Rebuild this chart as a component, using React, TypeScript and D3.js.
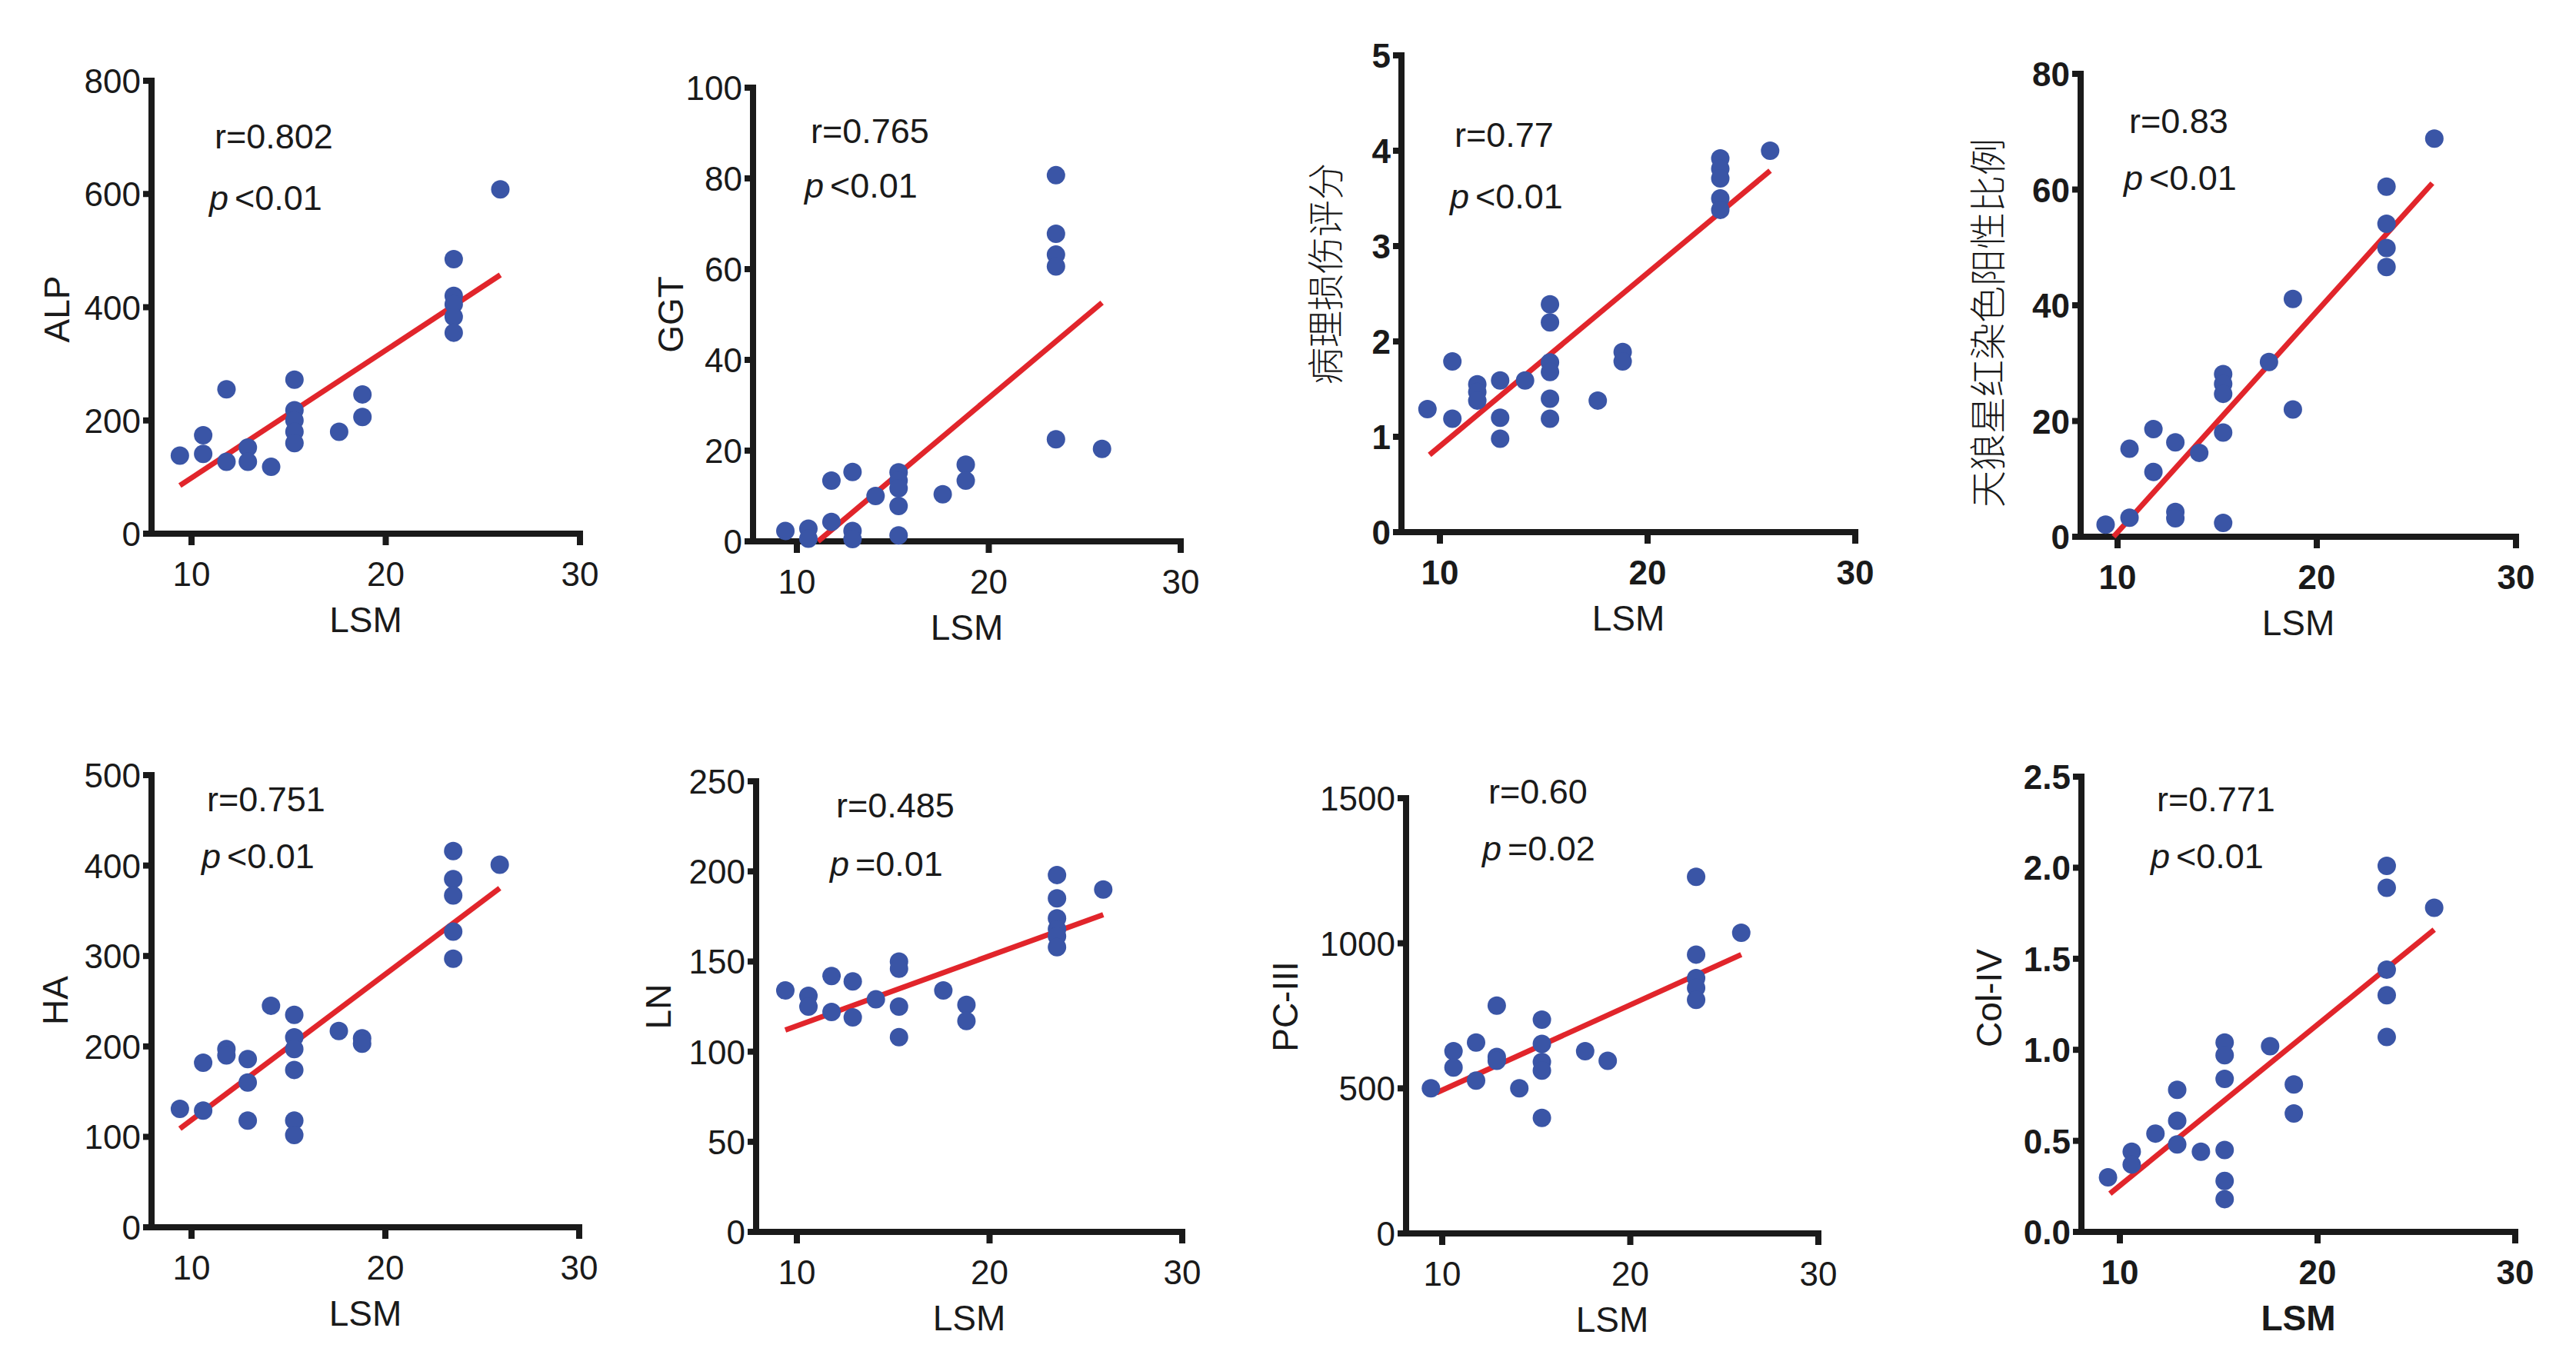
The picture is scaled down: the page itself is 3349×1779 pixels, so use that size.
import React from "react";
import * as d3 from "d3";

// ---------- DATA ----------
const alpLSM = [9.4, 10.6, 10.6, 11.8, 11.8, 12.9, 12.9, 14.1, 15.3, 15.3, 15.3, 15.3, 15.3, 17.6, 18.8, 18.8, 23.5, 23.5, 23.5, 23.5, 23.5, 25.9];
const alpVal = [138, 174, 141, 255, 127, 152, 127, 118, 272, 218, 200, 180, 160, 180, 246, 206, 485, 420, 405, 383, 355, 608];
const alpFitX = [9.4, 25.9];
const alpFitY = [85, 457];

const ggtLSM = [9.4, 10.6, 10.6, 11.8, 11.8, 12.9, 12.9, 12.9, 14.1, 15.3, 15.3, 15.3, 15.3, 15.3, 17.6, 18.8, 18.8, 23.5, 23.5, 23.5, 23.5, 23.5, 25.9];
const ggtVal = [2.3, 2.8, 0.6, 13.4, 4.3, 15.3, 2.3, 0.5, 10, 15.2, 13.4, 11.7, 7.8, 1.3, 10.4, 16.9, 13.4, 80.7, 67.8, 63.2, 60.6, 22.5, 20.4];
const ggtFitX = [11.1, 25.9];
const ggtFitY = [0, 52.6];

const scoreLSM = [9.4, 10.6, 10.6, 11.8, 11.8, 11.8, 12.9, 12.9, 12.9, 14.1, 15.3, 15.3, 15.3, 15.3, 15.3, 15.3, 17.6, 18.8, 18.8, 23.5, 23.5, 23.5, 23.5, 23.5, 25.9];
const scoreVal = [1.29, 1.79, 1.19, 1.55, 1.47, 1.38, 1.59, 1.2, 0.98, 1.59, 2.39, 2.2, 1.78, 1.68, 1.4, 1.19, 1.38, 1.89, 1.79, 3.92, 3.81, 3.71, 3.5, 3.38, 4.0];
const scoreFitX = [9.5, 25.9];
const scoreFitY = [0.81, 3.79];

const siriusLSM = [9.4, 10.6, 10.6, 11.8, 11.8, 12.9, 12.9, 12.9, 14.1, 15.3, 15.3, 15.3, 15.3, 15.3, 17.6, 18.8, 18.8, 23.5, 23.5, 23.5, 23.5, 25.9];
const siriusVal = [2.1, 15.2, 3.3, 18.6, 11.2, 16.3, 4.3, 3.2, 14.5, 28.1, 26.4, 24.7, 18.0, 2.4, 30.2, 41.1, 22.0, 60.5, 54.1, 49.9, 46.6, 68.8];
const siriusFitX = [9.8, 25.8];
const siriusFitY = [0, 61.1];

const haLSM = [9.4, 10.6, 10.6, 11.8, 11.8, 12.9, 12.9, 12.9, 14.1, 15.3, 15.3, 15.3, 15.3, 15.3, 15.3, 17.6, 18.8, 18.8, 23.5, 23.5, 23.5, 23.5, 23.5, 25.9];
const haVal = [131, 182, 129, 197, 190, 186, 160, 118, 245, 235, 210, 197, 174, 118, 102, 217, 209, 203, 416, 385, 367, 327, 297, 401];
const haFitX = [9.4, 25.9];
const haFitY = [109, 375];

const lnLSM = [9.4, 10.6, 10.6, 11.8, 11.8, 12.9, 12.9, 14.1, 15.3, 15.3, 15.3, 15.3, 17.6, 18.8, 18.8, 23.5, 23.5, 23.5, 23.5, 23.5, 23.5, 25.9];
const lnVal = [134, 131, 125, 142, 122, 139, 119, 129, 150, 146, 125, 108, 134, 126, 117, 198, 185, 174, 168, 164, 158, 190];
const lnFitX = [9.4, 25.9];
const lnFitY = [112, 176];

const pcLSM = [9.4, 10.6, 10.6, 11.8, 11.8, 12.9, 12.9, 12.9, 14.1, 15.3, 15.3, 15.3, 15.3, 15.3, 17.6, 18.8, 23.5, 23.5, 23.5, 23.5, 23.5, 25.9];
const pcVal = [500, 628, 572, 658, 527, 785, 608, 595, 500, 737, 653, 591, 561, 398, 628, 595, 1229, 961, 880, 846, 805, 1036];
const pcFitX = [9.7, 25.9];
const pcFitY = [485, 961];

const colLSM = [9.4, 10.6, 10.6, 11.8, 12.9, 12.9, 12.9, 14.1, 15.3, 15.3, 15.3, 15.3, 15.3, 15.3, 17.6, 18.8, 18.8, 23.5, 23.5, 23.5, 23.5, 23.5, 25.9];
const colVal = [0.30, 0.44, 0.37, 0.54, 0.78, 0.61, 0.48, 0.44, 1.04, 0.97, 0.84, 0.45, 0.28, 0.18, 1.02, 0.81, 0.65, 2.01, 1.89, 1.44, 1.30, 1.07, 1.78];
const colFitX = [9.5, 25.9];
const colFitY = [0.21, 1.66];

const xTicks = [10, 20, 30];
const xTitle = "LSM";

const yTitles = ["ALP", "GGT", "病理损伤评分", "天狼星红染色阳性比例", "HA", "LN", "PC-III", "Col-IV"];
const yMaxes = [800, 100, 5, 80, 500, 250, 1500, 2.5];
const yTickSets = [
  [0, 200, 400, 600, 800],
  [0, 20, 40, 60, 80, 100],
  [0, 1, 2, 3, 4, 5],
  [0, 20, 40, 60, 80],
  [0, 100, 200, 300, 400, 500],
  [0, 50, 100, 150, 200, 250],
  [0, 500, 1000, 1500],
  [0, 0.5, 1.0, 1.5, 2.0, 2.5],
];
const yTickFormats = ["d", "d", "d", "d", "d", "d", "d", ".1f"];
const rTexts = ["r=0.802", "r=0.765", "r=0.77", "r=0.83", "r=0.751", "r=0.485", "r=0.60", "r=0.771"];
const pTexts = ["<0.01", "<0.01", "<0.01", "<0.01", "<0.01", "=0.01", "=0.02", "<0.01"];

const seriesX = [alpLSM, ggtLSM, scoreLSM, siriusLSM, haLSM, lnLSM, pcLSM, colLSM];
const seriesY = [alpVal, ggtVal, scoreVal, siriusVal, haVal, lnVal, pcVal, colVal];
const fitXs = [alpFitX, ggtFitX, scoreFitX, siriusFitX, haFitX, lnFitX, pcFitX, colFitX];
const fitYs = [alpFitY, ggtFitY, scoreFitY, siriusFitY, haFitY, lnFitY, pcFitY, colFitY];

// ---------- LAYOUT (pixel geometry, styles) ----------
const W = 3349;
const H = 1779;
const layout = [
  { left: 197, x10: 249, x30: 754, ytop: 105, ybot: 694, tDx: 123, tCy: 402, rX: 279, rY: 193, pX: 272, pY: 273, bold: false, cjk: false, tBold: false },
  { left: 979, x10: 1036, x30: 1535, ytop: 114, ybot: 704, tDx: 107, tCy: 409, rX: 1054, rY: 186, pX: 1046, pY: 257, bold: false, cjk: false, tBold: false },
  { left: 1822, x10: 1872, x30: 2412, ytop: 72, ybot: 692, tDx: 102, tCy: 356, rX: 1891, rY: 191, pX: 1885, pY: 271, bold: true, cjk: true, tBold: false },
  { left: 2705, x10: 2753, x30: 3271, ytop: 96, ybot: 698, tDx: 124, tCy: 420, rX: 2768, rY: 173, pX: 2761, pY: 247, bold: true, cjk: true, tBold: false },
  { left: 197, x10: 249, x30: 753, ytop: 1008, ybot: 1596, tDx: 125, tCy: 1301, rX: 269, rY: 1055, pX: 262, pY: 1129, bold: false, cjk: false, tBold: false },
  { left: 983, x10: 1036, x30: 1537, ytop: 1016, ybot: 1602, tDx: 127, tCy: 1309, rX: 1087, rY: 1063, pX: 1079, pY: 1139, bold: false, cjk: false, tBold: false },
  { left: 1828, x10: 1875, x30: 2364, ytop: 1038, ybot: 1604, tDx: 157, tCy: 1309, rX: 1935, rY: 1045, pX: 1927, pY: 1119, bold: false, cjk: false, tBold: false },
  { left: 2706, x10: 2756, x30: 3270, ytop: 1010, ybot: 1602, tDx: 120, tCy: 1298, rX: 2804, rY: 1055, pX: 2796, pY: 1129, bold: true, cjk: false, tBold: true },
];

const FONT = "'Liberation Sans', Arial, Helvetica, sans-serif";
const CJK = "'Noto Sans CJK SC', sans-serif";
const DOT = "#3a55a6";
const RED = "#e1252b";
const INK = "#1a1a1a";
const AXW = 8;
const TICK = 11;

function Panel({ i }: { i: number }) {
  const L = layout[i];
  const x = d3.scaleLinear().domain([10, 30]).range([L.x10, L.x30]);
  const y = d3.scaleLinear().domain([0, yMaxes[i]]).range([L.ybot, L.ytop]);
  const fmt = d3.format(yTickFormats[i]);
  const xs = seriesX[i];
  const ys = seriesY[i];
  const line = d3
    .line<number>()
    .x((_, k) => x(fitXs[i][k]))
    .y((v) => y(v));
  const tickWeight = L.bold ? "bold" : "normal";
  return (
    <g>
      {/* axes */}
      <line x1={L.left} x2={L.left} y1={y(yMaxes[i]) - AXW / 2} y2={L.ybot} stroke={INK} strokeWidth={AXW} />
      <line x1={L.left - TICK} x2={x(30) + AXW / 2} y1={L.ybot} y2={L.ybot} stroke={INK} strokeWidth={AXW} />
      {yTickSets[i].map((t) => (
        <g key={"y" + t}>
          <line x1={L.left - TICK} x2={L.left} y1={y(t)} y2={y(t)} stroke={INK} strokeWidth={AXW} />
          <text
            x={L.left - TICK - 3}
            y={y(t) + 16}
            textAnchor="end"
            fontFamily={FONT}
            fontSize={44}
            fontWeight={tickWeight}
            fill={INK}
          >
            {fmt(t)}
          </text>
        </g>
      ))}
      {xTicks.map((t) => (
        <g key={"x" + t}>
          <line x1={x(t)} x2={x(t)} y1={L.ybot} y2={L.ybot + TICK + AXW / 2} stroke={INK} strokeWidth={AXW} />
          <text
            x={x(t)}
            y={L.ybot + 68}
            textAnchor="middle"
            fontFamily={FONT}
            fontSize={44}
            fontWeight={tickWeight}
            fill={INK}
          >
            {t}
          </text>
        </g>
      ))}
      {/* axis titles */}
      <text
        x={(L.left + x(30)) / 2}
        y={L.ybot + 128}
        textAnchor="middle"
        fontFamily={FONT}
        fontSize={46}
        fontWeight={L.tBold ? "bold" : "normal"}
        fill={INK}
      >
        {xTitle}
      </text>
      <text
        transform={`translate(${L.left - L.tDx},${L.tCy}) rotate(-90)`}
        textAnchor="middle"
        dominantBaseline="central"
        fontFamily={L.cjk ? CJK : FONT}
        fontSize={L.cjk ? 48 : 46}
        fontWeight={L.cjk ? 300 : "normal"}
        fill={INK}
      >
        {yTitles[i]}
      </text>
      {/* regression line */}
      <path d={line(fitYs[i]) || ""} fill="none" stroke={RED} strokeWidth={7} />
      {/* points */}
      {xs.map((v, k) => (
        <circle key={k} cx={x(v)} cy={y(ys[k])} r={12} fill={DOT} />
      ))}
      {/* annotations */}
      <text x={L.rX} y={L.rY} fontFamily={FONT} fontSize={45} fill={INK}>
        {rTexts[i]}
      </text>
      <text x={L.pX} y={L.pY} fontFamily={FONT} fontSize={45} fill={INK}>
        <tspan fontStyle="italic">p</tspan>
        <tspan dx={8}>{pTexts[i]}</tspan>
      </text>
    </g>
  );
}

export default function App() {
  return (
    <svg
      width={W}
      height={H}
      viewBox={`0 0 ${W} ${H}`}
      style={{ position: "absolute", left: 0, top: 0, background: "#ffffff" }}
    >
      <rect x={0} y={0} width={W} height={H} fill="#ffffff" />
      {layout.map((_, i) => (
        <Panel key={i} i={i} />
      ))}
    </svg>
  );
}
